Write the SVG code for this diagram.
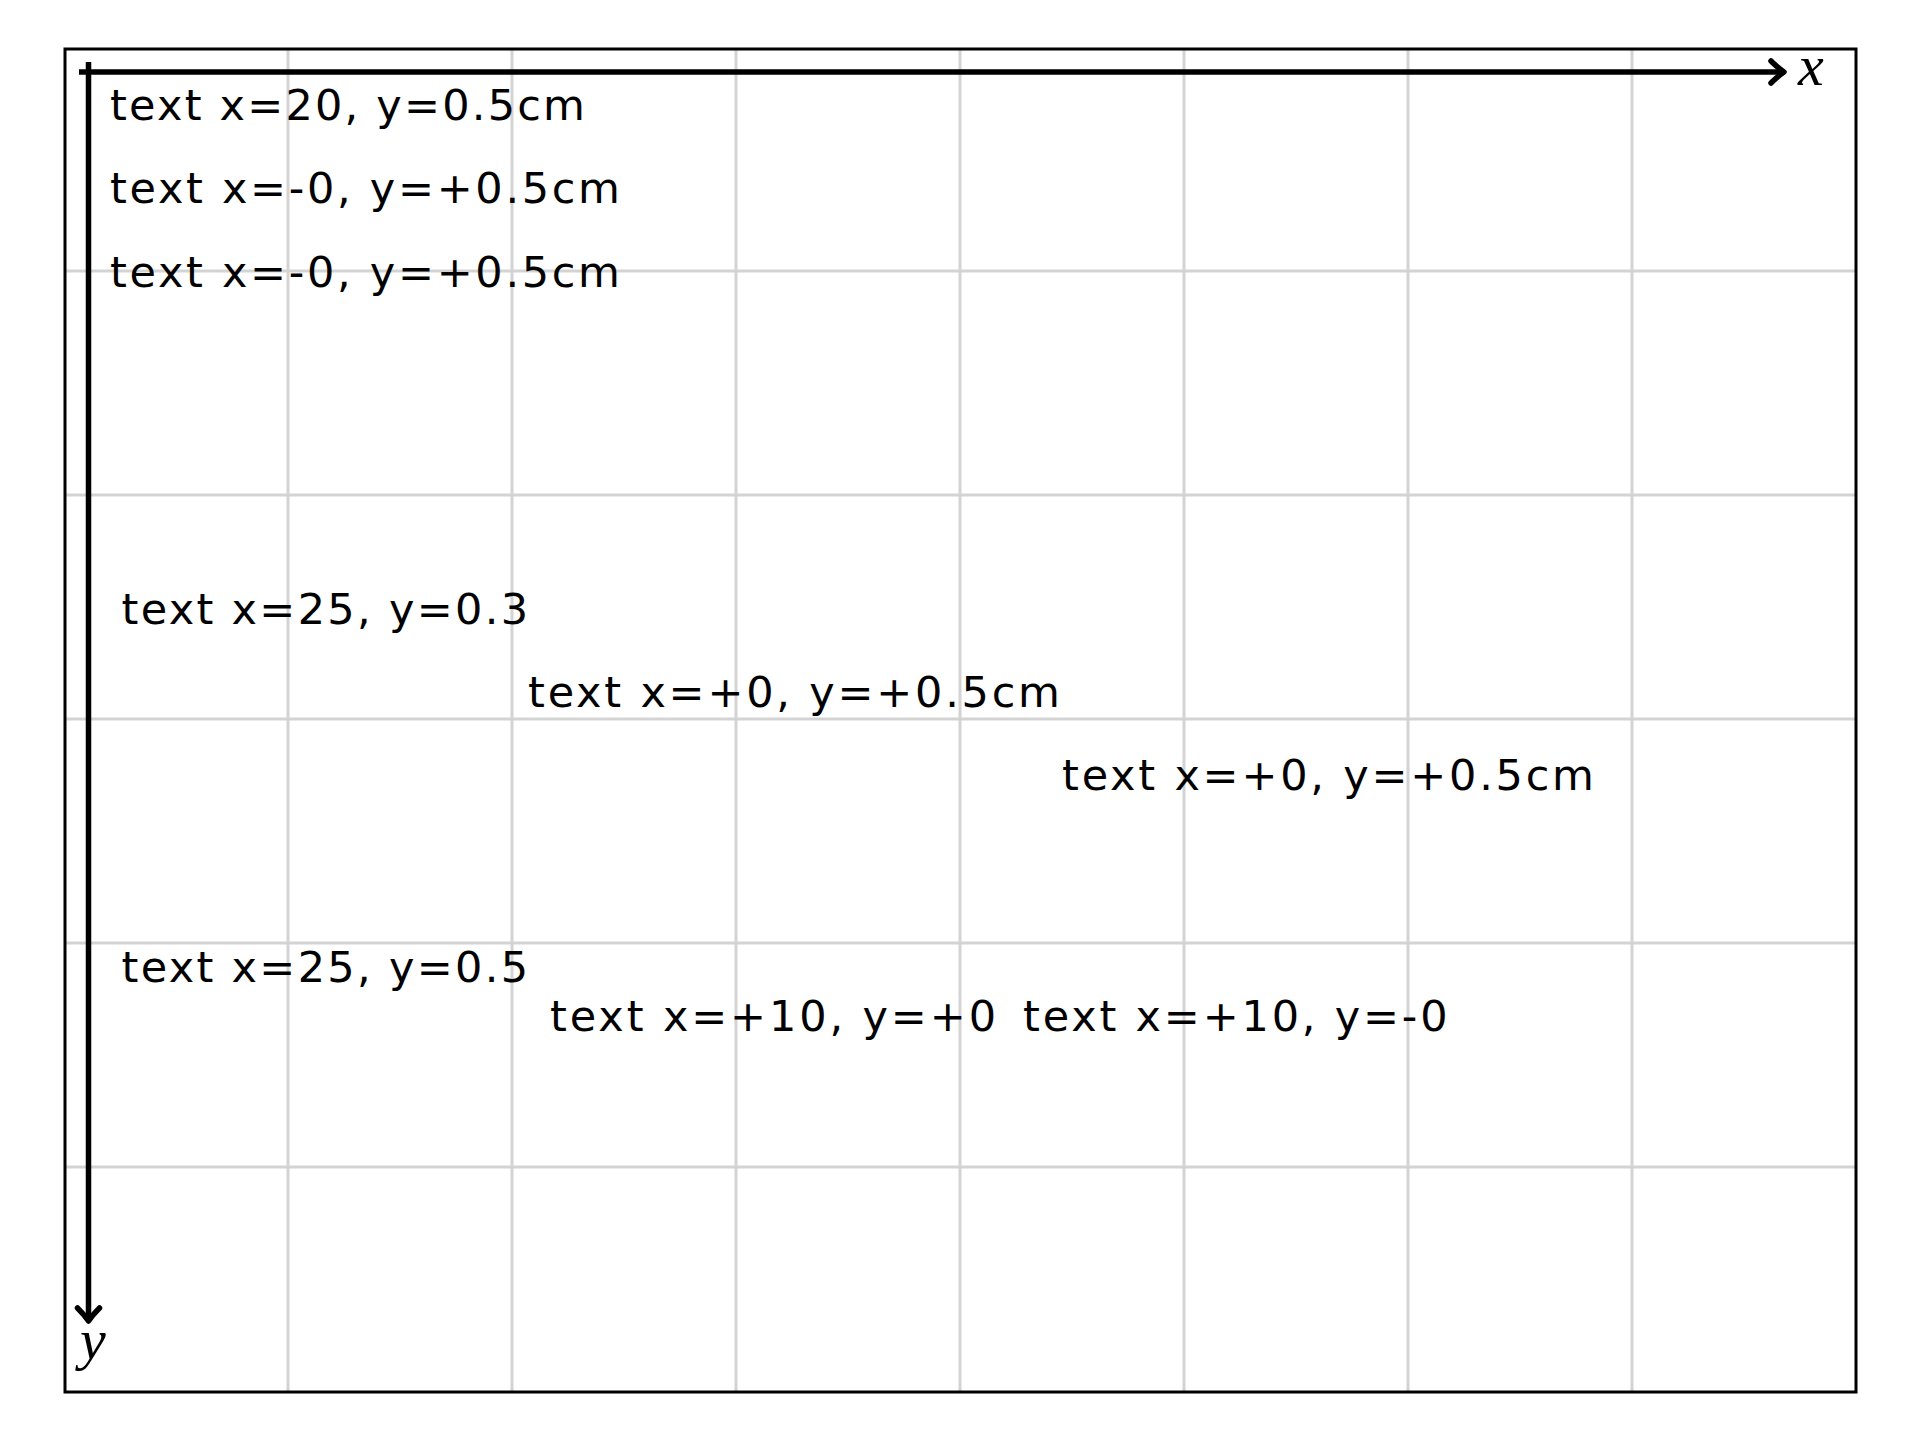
<svg xmlns="http://www.w3.org/2000/svg" width="1920" height="1440" viewBox="0 0 1920 1440">
<style>
.grid{stroke:#d3d3d3;stroke-width:3;fill:none}
.frame{stroke:#000;stroke-width:3;fill:none}
.axis{stroke:#000;stroke-width:5.5;fill:none;stroke-linecap:butt}
.head{stroke:#000;stroke-width:5.5;fill:none;stroke-linecap:round;stroke-linejoin:round}
.lbl{font-family:"DejaVu Sans","Liberation Sans",sans-serif;font-size:43px;fill:#000}
.math{font-family:"Liberation Serif","DejaVu Serif",serif;font-style:italic;font-size:58px;fill:#000}
</style>
<rect width="1920" height="1440" fill="#fff"/>
<g id="grid">
<path class="grid" d="M288 49V1392M512 49V1392M736 49V1392M960 49V1392M1184 49V1392M1408 49V1392M1632 49V1392"/>
<path class="grid" d="M65 271H1856M65 495H1856M65 719H1856M65 943H1856M65 1167H1856"/>
</g>
<rect id="frame" class="frame" x="65" y="49" width="1791" height="1343"/>
<g id="connectors">
<g id="x-axis">
<line class="axis" x1="79" y1="72" x2="1781" y2="72"/>
<path class="head" d="M1771 61Q1778 68 1784 72Q1778 76 1771 83"/>
</g>
<g id="y-axis">
<line class="axis" x1="88.5" y1="62" x2="88.5" y2="1318"/>
<path class="head" d="M77.5 1308Q84.5 1315 88.5 1321Q92.5 1315 99.5 1308"/>
</g>
</g>
<g id="label-x"><text class="math" x="1798" y="85">x</text></g>
<g id="label-y"><text class="math" x="80" y="1359">y</text></g>
<g id="t1"><text class="lbl" x="110" y="119.5" textLength="475" lengthAdjust="spacing">text x=20, y=0.5cm</text></g>
<g id="t2"><text class="lbl" x="110" y="203" textLength="510" lengthAdjust="spacing">text x=-0, y=+0.5cm</text></g>
<g id="t3"><text class="lbl" x="110" y="286.5" textLength="510" lengthAdjust="spacing">text x=-0, y=+0.5cm</text></g>
<g id="t4"><text class="lbl" x="121.5" y="623.5" textLength="406.5" lengthAdjust="spacing">text x=25, y=0.3</text></g>
<g id="t5"><text class="lbl" x="528" y="706.5" textLength="532" lengthAdjust="spacing">text x=+0, y=+0.5cm</text></g>
<g id="t6"><text class="lbl" x="1062" y="789.5" textLength="532" lengthAdjust="spacing">text x=+0, y=+0.5cm</text></g>
<g id="t7"><text class="lbl" x="121.5" y="981.5" textLength="406.5" lengthAdjust="spacing">text x=25, y=0.5</text></g>
<g id="t8"><text class="lbl" x="550" y="1030.5" textLength="446" lengthAdjust="spacing">text x=+10, y=+0</text></g>
<g id="t9"><text class="lbl" x="1023" y="1030.5" textLength="424.5" lengthAdjust="spacing">text x=+10, y=-0</text></g>
</svg>
